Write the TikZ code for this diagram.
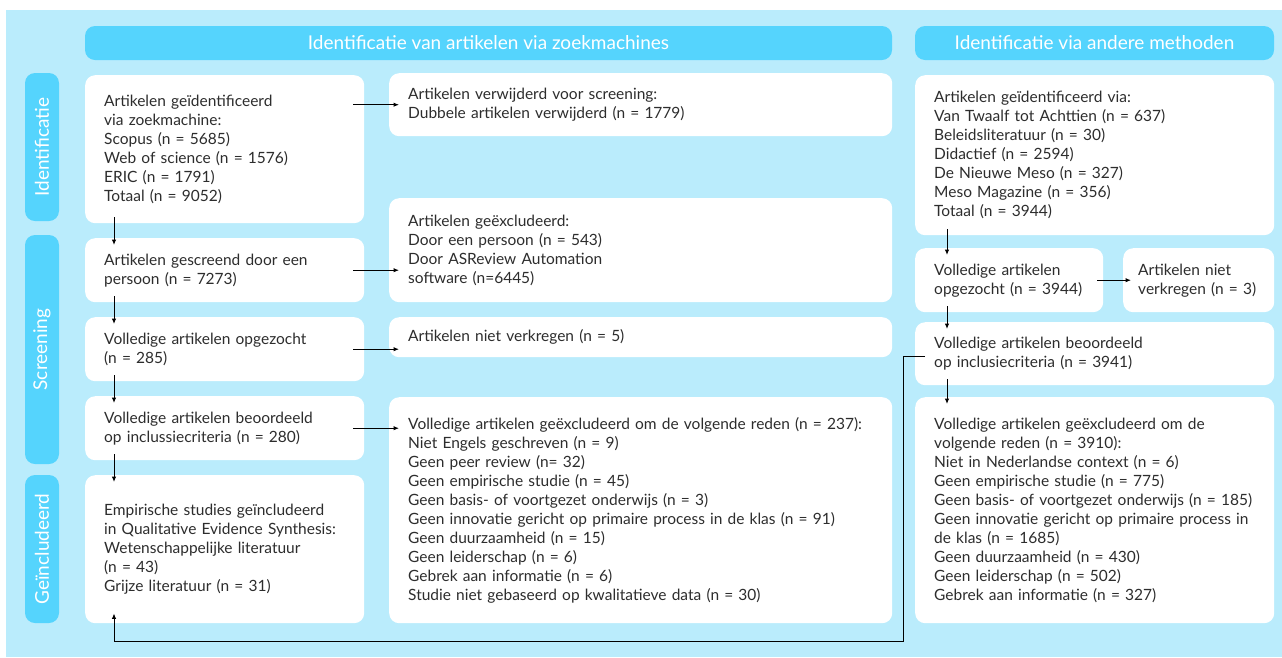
\documentclass[tikz,border=0pt]{standalone}
\usepackage{fontspec}
\setmainfont{Lato}
\usepackage{tikz}
\usetikzlibrary{arrows.meta}

\definecolor{bgblue}{RGB}{186,236,252}
\definecolor{headblue}{RGB}{85,212,253}
\definecolor{txtgray}{RGB}{45,45,45}
\newcommand{\boxfont}{\fontsize{15.5pt}{19pt}\selectfont}
\newcommand{\headfont}{\fontsize{19pt}{21pt}\selectfont}

\tikzset{
    box/.style={fill=white, rounded corners=10pt, anchor=north west, align=left,
        inner xsep=19pt, inner ysep=0pt, text=txtgray, font=\boxfont},
    head/.style={fill=headblue, rounded corners=10pt, text=white, font=\headfont,
        minimum height=34pt, inner sep=0pt},
    side/.style={fill=headblue, rounded corners=10pt, text=white, font=\headfont,
        minimum height=34pt, inner sep=0pt, rotate=90},
    arr/.style={line width=1pt, draw=black, -{Latex[length=5.5pt,width=4.5pt]}},
    varr/.style={arr, shorten <=-6pt, shorten >=-7pt},
    harr/.style={arr, shorten <=-11pt, shorten >=-10pt}
}

\begin{document}
\begin{tikzpicture}[x=1pt,y=-1pt]
    \useasboundingbox (0,0) rectangle (1282,657);
    \fill[bgblue] (6,10) rectangle (1282,657);

    \node[head, minimum width=807pt] (h1) at (488.5,43) {Identificatie van artikelen via zoekmachines};
    \node[head, minimum width=359pt] (h2) at (1094.5,43) {Identificatie via andere methoden};

    \node[side, minimum width=148pt] (s1) at (42,147) {Identificatie};
    \node[side, minimum width=229pt] (s2) at (42,349.5) {Screening};
    \node[side, minimum width=148pt] (s3) at (42,549) {Geïncludeerd};

    % zoekmachines
    \node[box, text width=241pt, minimum height=148pt] (zm) at (85,75)
        {Artikelen geïdentificeerd\\via zoekmachine:\\Scopus (n = 5685)\\Web of science (n = 1576)\\ERIC (n = 1791)\\Totaal (n = 9052)};
    \node[box, text width=241pt, minimum height=64pt] (scr) at (85,238)
        {Artikelen gescreend door een\\persoon (n = 7273)};
    \node[box, text width=241pt, minimum height=64pt] (opg) at (85,317)
        {Volledige artikelen opgezocht\\(n = 285)};
    \node[box, text width=241pt, minimum height=64pt] (beo) at (85,396)
        {Volledige artikelen beoordeeld\\op inclussiecriteria (n = 280)};
    \node[box, text width=241pt, minimum height=148pt] (inc) at (85,475)
        {Empirische studies geïncludeerd\\in Qualitative Evidence Synthesis:\\Wetenschappelijke literatuur\\(n = 43)\\Grijze literatuur (n = 31)};

    \node[box, text width=465pt, minimum height=63pt] (dub) at (389,73)
        {Artikelen verwijderd voor screening:\\Dubbele artikelen verwijderd (n = 1779)};
    \node[box, text width=465pt, minimum height=104pt] (exc1) at (389,198)
        {Artikelen geëxcludeerd:\\Door een persoon (n = 543)\\Door ASReview Automation\\software (n=6445)};
    \node[box, text width=465pt, minimum height=40pt] (nv) at (389,317)
        {Artikelen niet verkregen (n = 5)};
    \node[box, text width=465pt, minimum height=226pt] (exc2) at (389,397)
        {Volledige artikelen geëxcludeerd om de volgende reden (n = 237):\\Niet Engels geschreven (n = 9)\\Geen peer review (n= 32)\\Geen empirische studie (n = 45)\\Geen basis- of voortgezet onderwijs (n = 3)\\Geen innovatie gericht op primaire process in de klas (n = 91)\\Geen duurzaamheid (n = 15)\\Geen leiderschap (n = 6)\\Gebrek aan informatie (n = 6)\\Studie niet gebaseerd op kwalitatieve data (n = 30)};

    % andere methoden
    \node[box, text width=321pt, minimum height=160pt] (oth) at (915,75)
        {Artikelen geïdentificeerd via:\\Van Twaalf tot Achttien (n = 637)\\Beleidsliteratuur (n = 30)\\Didactief (n = 2594)\\De Nieuwe Meso (n = 327)\\Meso Magazine (n = 356)\\Totaal (n = 3944)};
    \node[box, text width=150pt, minimum height=64pt] (opg2) at (915,248)
        {Volledige artikelen\\opgezocht (n = 3944)};
    \node[box, inner xsep=15pt, text width=121pt, minimum height=64pt] (nv2) at (1123,248)
        {Artikelen niet\\verkregen (n = 3)};
    \node[box, text width=321pt, minimum height=63pt] (beo2) at (915,322)
        {Volledige artikelen beoordeeld\\op inclusiecriteria (n = 3941)};
    \node[box, text width=321pt, minimum height=226pt] (exc3) at (915,397)
        {Volledige artikelen geëxcludeerd om de\\volgende reden (n = 3910):\\Niet in Nederlandse context (n = 6)\\Geen empirische studie (n = 775)\\Geen basis- of voortgezet onderwijs (n = 185)\\Geen innovatie gericht op primaire process in\\de klas (n = 1685)\\Geen duurzaamheid (n = 430)\\Geen leiderschap (n = 502)\\Gebrek aan informatie (n = 327)};

    \foreach \a/\b in {zm/scr, scr/opg, opg/beo, beo/inc}
        \draw[varr] ([xshift=29pt]\a.south west) -- ([xshift=29pt]\b.north west);
    \foreach \a/\b in {oth/opg2, opg2/beo2, beo2/exc3}
        \draw[varr] ([xshift=32pt]\a.south west) -- ([xshift=32pt]\b.north west);

    \draw[harr] (zm.east |- dub.west) -- (dub.west);
    \foreach \a/\b in {scr/exc1, opg/nv, beo/exc2}
        \draw[harr] (\a.east) -- (\a.east -| \b.west);
    \draw[arr, shorten <=-6pt, shorten >=-8pt] (opg2.east) -- (opg2.east -| nv2.west);

    \coordinate (lp) at (903,641);
    \draw[arr] ([xshift=10pt,yshift=-3pt]beo2.west) -| (lp) -| ([xshift=29pt,yshift=10pt]inc.south west);
\end{tikzpicture}
\end{document}
